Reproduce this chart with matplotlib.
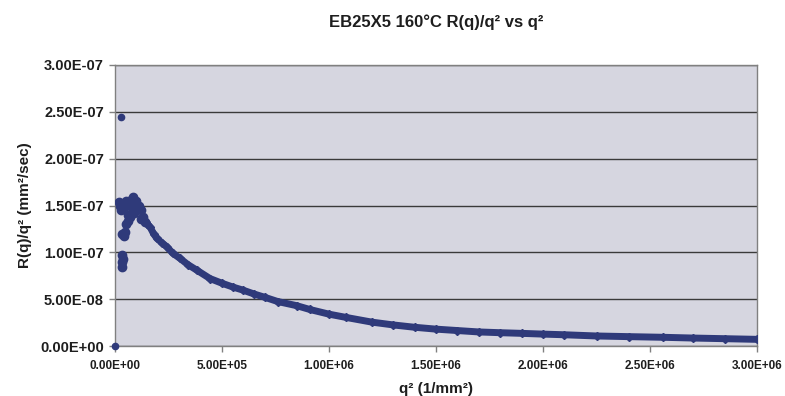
import matplotlib
matplotlib.use("Agg")
import matplotlib.pyplot as plt
from matplotlib.ticker import FixedLocator

# ---- data ----
title = "EB25X5 160°C R(q)/q² vs q²"
x_label = "q² (1/mm²)"
y_label = "R(q)/q² (mm²/sec)"

x_ticks = [0, 5e5, 1e6, 1.5e6, 2e6, 2.5e6, 3e6]
x_tick_labels = ["0.00E+00", "5.00E+05", "1.00E+06", "1.50E+06", "2.00E+06", "2.50E+06", "3.00E+06"]
y_ticks = [0, 5e-8, 1e-7, 1.5e-7, 2e-7, 2.5e-7, 3e-7]
y_tick_labels = ["0.00E+00", "5.00E-08", "1.00E-07", "1.50E-07", "2.00E-07", "2.50E-07", "3.00E-07"]

# isolated points
single_x = [0.0, 2.7e4]
single_y = [0.0, 2.44e-7]

# scattered low-q cluster
cluster_x = [2.0e4, 2.3e4, 3.0e4, 4.0e4, 5.0e4, 6.5e4, 8.5e4, 1.0e5, 1.1e5, 9.0e4,
             7.0e4, 6.0e4, 5.0e4, 4.5e4, 4.0e4, 3.5e4, 3.5e4, 3.5e4, 3.3e4, 3.8e4,
             1.2e5, 1.3e5, 1.4e5, 1.2e5, 8.0e4, 6.0e4, 9.5e4, 7.5e4]
cluster_y = [1.54e-7, 1.50e-7, 1.45e-7, 1.48e-7, 1.55e-7, 1.52e-7, 1.59e-7, 1.55e-7, 1.50e-7, 1.42e-7,
             1.38e-7, 1.33e-7, 1.30e-7, 1.22e-7, 1.17e-7, 1.20e-7, 0.97e-7, 0.90e-7, 0.84e-7, 0.93e-7,
             1.45e-7, 1.38e-7, 1.32e-7, 1.36e-7, 1.47e-7, 1.40e-7, 1.46e-7, 1.56e-7]

# main decaying curve
curve_x = [1.45e5, 1.5e5, 1.64e5, 1.8e5, 1.95e5, 2.2e5, 2.42e5, 2.7e5, 3.04e5, 3.4e5,
           3.82e5, 4.44e5, 5.0e5, 5.5e5, 6.0e5, 6.5e5, 7.0e5, 7.6e5, 8.5e5, 9.1e5,
           1.0e6, 1.08e6, 1.2e6, 1.3e6, 1.4e6, 1.5e6, 1.6e6, 1.7e6, 1.8e6, 1.9e6,
           2.0e6, 2.1e6, 2.25e6, 2.4e6, 2.56e6, 2.7e6, 2.85e6, 3.0e6]
curve_y = [1.32e-7, 1.30e-7, 1.27e-7, 1.20e-7, 1.15e-7, 1.10e-7, 1.06e-7, 0.99e-7, 0.935e-7, 0.87e-7,
           0.81e-7, 0.72e-7, 0.67e-7, 0.63e-7, 0.595e-7, 0.555e-7, 0.52e-7, 0.475e-7, 0.43e-7, 0.39e-7,
           0.34e-7, 0.305e-7, 0.255e-7, 0.225e-7, 0.20e-7, 0.18e-7, 0.165e-7, 0.15e-7, 0.142e-7, 0.135e-7,
           0.127e-7, 0.12e-7, 0.107e-7, 0.10e-7, 0.093e-7, 0.085e-7, 0.078e-7, 0.071e-7]

# ---- plotting ----
font = "Liberation Sans"
mark_color = "#2f3a7a"
text_color = "#1e1e1e"

fig = plt.figure(figsize=(7.85, 3.96), dpi=100)
fig.patch.set_facecolor("white")
ax = fig.add_axes([115 / 785, 50 / 396, 642 / 785, 281 / 396])
ax.set_facecolor("#d6d6e0")

ax.plot(curve_x, curve_y, color=mark_color, lw=5, solid_capstyle="round", zorder=3)
ax.plot(curve_x, curve_y, "D", color=mark_color, ms=4, zorder=3)
ax.plot(cluster_x, cluster_y, "o", color=mark_color, ms=6, zorder=3)
ax.plot(single_x, single_y, "o", color=mark_color, ms=4.5, zorder=3, clip_on=False)

ax.set_xlim(0, 3e6)
ax.set_ylim(0, 3e-7)
ax.xaxis.set_major_locator(FixedLocator(x_ticks))
ax.yaxis.set_major_locator(FixedLocator(y_ticks))
ax.set_xticklabels(x_tick_labels, fontfamily=font, fontweight="bold", fontsize=8.5, color=text_color)
ax.set_yticklabels(y_tick_labels, fontfamily=font, fontweight="bold", fontsize=10.5, color=text_color)

ax.grid(axis="y", color="#3a3a3a", lw=1.0, zorder=1)
ax.set_axisbelow(True)
for s in ax.spines.values():
    s.set_color("#808080")
    s.set_linewidth(1.0)
ax.tick_params(axis="both", direction="out", length=4, width=1, color="#808080")
ax.tick_params(axis="x", pad=6)
ax.tick_params(axis="y", pad=4)

ax.set_xlabel(x_label, fontfamily=font, fontweight="bold", fontsize=11, color=text_color, labelpad=7)
ax.set_ylabel(y_label, fontfamily=font, fontweight="bold", fontsize=11, color=text_color, labelpad=6)
fig.text(0.5 * (115 + 757) / 785, 1 - 22 / 396, title, ha="center", va="center",
         fontfamily=font, fontweight="bold", fontsize=12, color=text_color)

fig.savefig("out.png", dpi=100)
